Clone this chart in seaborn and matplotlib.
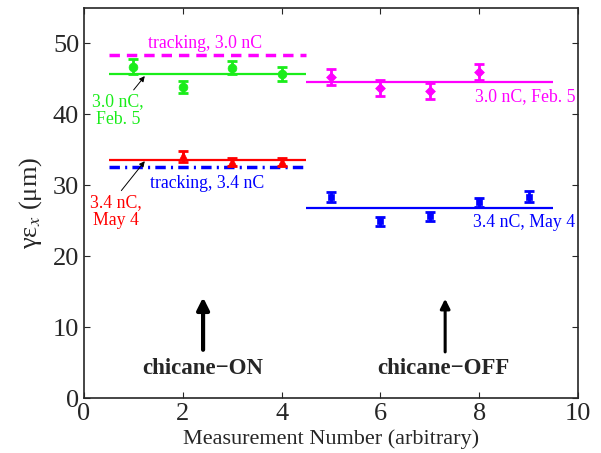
import numpy as np
import pandas as pd
import matplotlib
matplotlib.use("Agg")
import matplotlib.pyplot as plt
import seaborn as sns

# measurements, chicane ON (x = 1..4) and chicane OFF (x = 5..9)
on_30_x = [1, 2, 3, 4]
on_30_y = [46.7, 43.8, 46.6, 45.7]
on_30_err = [1.05, 0.85, 0.9, 1.05]

on_34_x = [2, 3, 4]
on_34_y = [34.1, 33.3, 33.3]
on_34_err = [0.8, 0.6, 0.6]

off_30_x = [5, 6, 7, 8]
off_30_y = [45.3, 43.7, 43.3, 46.0]
off_30_err = [1.1, 1.1, 1.1, 1.1]

off_34_x = [5, 6, 7, 8, 9]
off_34_y = [28.3, 24.9, 25.6, 27.6, 28.4]
off_34_err = [0.7, 0.6, 0.65, 0.65, 0.75]

# averages and tracking predictions
on_range = [0.5, 4.5]
off_range = [4.5, 9.5]
avg_on_30 = 45.7
avg_on_34 = 33.6
avg_off_30 = 44.6
avg_off_34 = 26.8
track_30 = 48.4
track_34 = 32.6

sns.set_style("ticks")
plt.rcParams['font.family'] = ['Liberation Serif', 'DejaVu Serif']
plt.rcParams['mathtext.fontset'] = 'stix'

fig = plt.figure(figsize=(6.01, 4.53), dpi=100)
ax = fig.add_axes([0.1398, 0.1214, 0.822, 0.8609])

grn = (0.1, 0.93, 0.1)
mag = (1.0, 0.0, 1.0)
red = (1.0, 0.0, 0.0)
blu = (0.0, 0.0, 1.0)

# tracking lines
ax.hlines(track_30, *on_range, colors=mag, linestyles=(0, (3, 2)), lw=2.5)
ax.hlines(track_34, *on_range, colors=blu, linestyles=(0, (3, 1.5, 0.6, 1.5)), lw=2.5)

# average lines
ax.hlines(avg_on_30, *on_range, colors=grn, lw=1.6)
ax.hlines(avg_on_34, *on_range, colors=red, lw=1.6)
ax.hlines(avg_off_30, *off_range, colors=mag, lw=1.6)
ax.hlines(avg_off_34, *off_range, colors=blu, lw=1.6)

sets = [
    (on_30_x, on_30_y, on_30_err, grn, 'o', 40),
    (on_34_x, on_34_y, on_34_err, red, '^', 40),
    (off_30_x, off_30_y, off_30_err, mag, 'D', 25),
    (off_34_x, off_34_y, off_34_err, blu, 's', 16),
]
for xs, ys, es, c, m, s in sets:
    df = pd.DataFrame({'x': xs, 'y': ys})
    ax.errorbar(xs, ys, yerr=es, fmt='none', ecolor=c, elinewidth=2,
                capsize=3.5, capthick=2)
    sns.scatterplot(data=df, x='x', y='y', ax=ax, color=c, marker=m, s=s,
                    edgecolor=c, linewidth=0.5, legend=False, zorder=3)

# labels
fs = 12.8
ax.text(2.45, 50.0, 'tracking, 3.0 nC', color=mag, fontsize=fs, ha='center', va='center')
ax.text(2.5, 30.3, 'tracking, 3.4 nC', color=blu, fontsize=fs, ha='center', va='center')
ax.text(9.95, 42.5, '3.0 nC, Feb. 5', color=mag, fontsize=fs, ha='right', va='center')
ax.text(9.95, 24.7, '3.4 nC, May 4', color=blu, fontsize=fs, ha='right', va='center')

ax.annotate('3.0 nC,\nFeb. 5', xy=(1.23, 45.4), xytext=(0.69, 40.5), color=grn,
            fontsize=fs, ha='center', va='center', linespacing=1.1,
            arrowprops=dict(arrowstyle='-|>', color='k', lw=0.7,
                            shrinkA=0, shrinkB=0, mutation_scale=8,
                            relpos=(0.75, 1.0)))
ax.annotate('3.4 nC,\nMay 4', xy=(1.23, 33.4), xytext=(0.65, 26.3), color=red,
            fontsize=fs, ha='center', va='center', linespacing=1.1,
            arrowprops=dict(arrowstyle='-|>', color='k', lw=0.7,
                            shrinkA=0, shrinkB=0, mutation_scale=8,
                            relpos=(0.55, 1.0)))

ax.annotate('', xy=(2.41, 14.2), xytext=(2.41, 6.8),
            arrowprops=dict(arrowstyle='-|>', color='k', lw=3,
                            shrinkA=0, shrinkB=0, mutation_scale=18))
ax.annotate('', xy=(7.31, 14.0), xytext=(7.31, 6.5),
            arrowprops=dict(arrowstyle='-|>', color='k', lw=2.2,
                            shrinkA=0, shrinkB=0, mutation_scale=14))
ax.text(2.4, 4.2, 'chicane\u2212ON', fontsize=16.5, fontweight='bold', ha='center', va='center')
ax.text(7.27, 4.2, 'chicane\u2212OFF', fontsize=16.5, fontweight='bold', ha='center', va='center')

ax.set_xlim(0, 10)
ax.set_ylim(0, 55)
ax.set_xticks([0, 2, 4, 6, 8, 10])
ax.set_yticks([0, 10, 20, 30, 40, 50])
ax.tick_params(direction='in', top=True, right=True, labelsize=19, length=4, width=0.8)
ax.set_xlabel('Measurement Number (arbitrary)', fontsize=16, labelpad=3)
ax.set_ylabel('\u03b3\u03b5$_x$ (\u03bcm)', fontsize=19, labelpad=6)
for sp in ax.spines.values():
    sp.set_linewidth(1.2)
    sp.set_visible(True)

fig.savefig('out.png', dpi=100)
